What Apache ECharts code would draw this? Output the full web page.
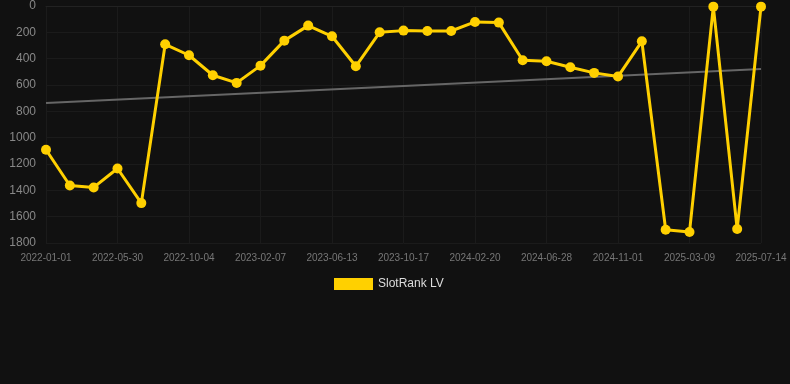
<!DOCTYPE html>
<html lang="en">
<head>
  <meta charset="UTF-8">
  <title>SlotRank LV</title>
  <script src="https://cdn.jsdelivr.net/npm/echarts@6/dist/echarts.min.js"></script>
  <style>
    html, body { margin: 0; padding: 0; background: #111111; }
  </style>
</head>
<body>
  <div id="main" style="width: 790px;height:384px;"></div>
  <script>
    // category dates (x axis)
    var dates = [
      '2022-01-01', '2022-02-19', '2022-04-10', '2022-05-30', '2022-07-12', '2022-08-23',
      '2022-10-04', '2022-11-16', '2022-12-28', '2023-02-07', '2023-03-21', '2023-05-02',
      '2023-06-13', '2023-07-25', '2023-09-05', '2023-10-17', '2023-11-28', '2024-01-09',
      '2024-02-20', '2024-04-02', '2024-05-16', '2024-06-28', '2024-08-09', '2024-09-20',
      '2024-11-01', '2024-12-13', '2025-01-25', '2025-03-09', '2025-04-20', '2025-06-01',
      '2025-07-14'
    ];

    // rank values (lower is better, axis inverted)
    var rankLV = [
      1092, 1363, 1378, 1234, 1497, 291, 374, 526, 584, 453, 263, 149,
      230, 458, 200, 187, 190, 190, 121, 126, 412, 420, 465, 508,
      536, 268, 1699, 1717, 5, 1694, 5
    ];

    // trend line, start and end values
    var trendStart = 736;
    var trendEnd = 478;

    var trend = dates.map(function (d, i) {
      if (i === 0) return trendStart;
      if (i === dates.length - 1) return trendEnd;
      return null;
    });

    var myChart = echarts.init(document.getElementById('main'));

    var option = {
      backgroundColor: '#111111',
      animation: false,
      grid: {
        left: 46,
        right: 29,
        top: 6,
        bottom: 141
      },
      legend: {
        top: 273,
        left: 329,
        data: ['SlotRank LV'],
        icon: 'rect',
        itemWidth: 39,
        itemHeight: 12,
        itemGap: 6,
        textStyle: { color: '#dddddd', fontSize: 12 }
      },
      xAxis: {
        type: 'category',
        data: dates,
        boundaryGap: false,
        axisLine: { lineStyle: { color: '#222222' } },
        axisTick: { show: false },
        axisLabel: { color: '#777777', fontSize: 10, interval: 2, margin: 10 },
        splitLine: { show: true, interval: 2, lineStyle: { color: '#1b1b1b' } }
      },
      yAxis: {
        type: 'value',
        inverse: true,
        min: 0,
        max: 1800,
        interval: 200,
        axisLine: { show: false },
        axisTick: { show: false },
        axisLabel: {
          color: '#888888',
          fontSize: 12,
          margin: 10,
          formatter: function (v) { return String(v); }
        },
        splitLine: { lineStyle: { color: '#1b1b1b' } }
      },
      series: [
        {
          name: 'SlotRank LV',
          type: 'line',
          data: rankLV,
          symbol: 'circle',
          symbolSize: 10,
          color: '#FFD000',
          lineStyle: { width: 3, color: '#FFD000' },
          itemStyle: { color: '#FFD000' },
          z: 3
        },
        {
          name: 'trend',
          type: 'line',
          data: trend,
          connectNulls: true,
          symbol: 'none',
          lineStyle: { width: 2, color: '#666666' },
          silent: true,
          z: 2
        }
      ]
    };

    myChart.setOption(option);
  </script>
</body>
</html>
